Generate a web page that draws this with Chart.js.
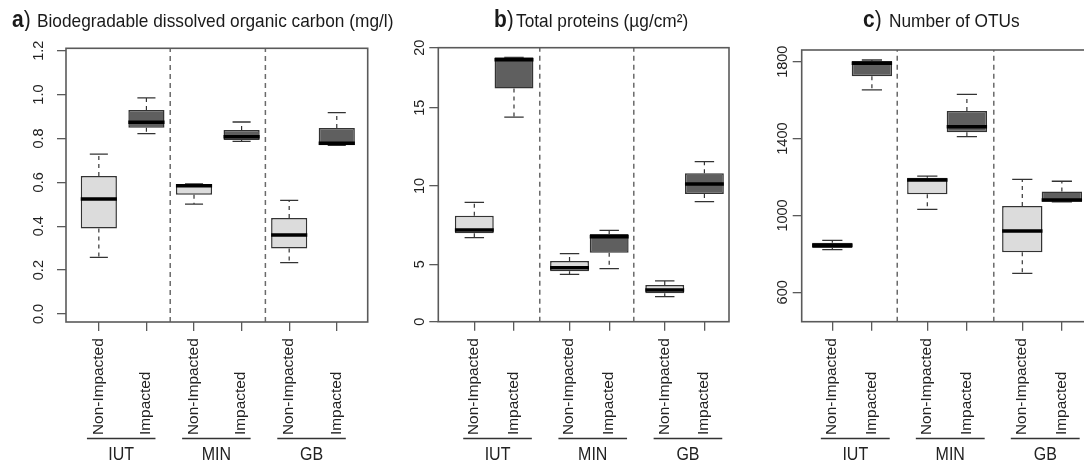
<!DOCTYPE html>
<html>
<head>
<meta charset="utf-8">
<script src="https://cdn.jsdelivr.net/npm/chart.js@4.4.1/dist/chart.umd.min.js"></script>
<style>
    html, body { margin: 0; padding: 0; background: #fff; overflow: hidden; }
    #wrap { position: relative; width: 1084px; height: 464px; overflow: hidden; }
    canvas { position: absolute; top: 0; }
    .tl, .tt { position: absolute; white-space: nowrap; font-family: "Liberation Sans", Arial, sans-serif; color: #1a1a1a; line-height: 22px; transform: scaleY(1.1); transform-origin: left bottom; }
    .tl { top: 9px; font-size: 21px; }
    .tl b { font-weight: bold; }
    .tt { top: 10px; font-size: 17.3px; }
</style>
</head>
<body>
<div id="wrap">
    <canvas id="cA" width="370" height="464" style="left:0px"></canvas>
    <canvas id="cB" width="362" height="464" style="left:370px"></canvas>
    <canvas id="cC" width="356" height="464" style="left:732px"></canvas>
    <div class="tl" style="left:12px"><b>a</b>)</div>
    <div class="tt" style="left:37px">Biodegradable dissolved organic carbon (mg/l)</div>
    <div class="tl" style="left:494px"><b>b</b>)</div>
    <div class="tt" style="left:516px">Total proteins (µg/cm²)</div>
    <div class="tl" style="left:863px"><b>c</b>)</div>
    <div class="tt" style="left:889px">Number of OTUs</div>
</div>
<script>
// order of boxes: IUT-NI, IUT-I, MIN-NI, MIN-I, GB-NI, GB-I
const groups = ['IUT', 'MIN', 'GB'];
const conditions = ['Non-Impacted', 'Impacted', 'Non-Impacted', 'Impacted', 'Non-Impacted', 'Impacted'];

// a) biodegradable DOC (mg/l)
const bdocMin = [0.258, 0.822, 0.501, 0.787, 0.234, 0.769];
const bdocQ1  = [0.390, 0.849, 0.544, 0.793, 0.298, 0.769];
const bdocMed = [0.524, 0.874, 0.585, 0.808, 0.360, 0.778];
const bdocQ3  = [0.629, 0.930, 0.593, 0.839, 0.438, 0.848];
const bdocMax = [0.729, 0.985, 0.593, 0.875, 0.518, 0.918];
const bdocTicks = [0, 0.2, 0.4, 0.6, 0.8, 1.0, 1.2];
const bdocTickLabels = ['0.0', '0.2', '0.4', '0.6', '0.8', '1.0', '1.2'];

// b) total proteins (µg/cm²)
const protMin = [6.70, 14.4, 4.13, 4.62, 2.18, 9.00];
const protQ1  = [6.98, 16.6, 4.39, 5.74, 2.47, 9.49];
const protMed = [7.19, 19.0, 4.70, 6.76, 2.76, 10.13];
const protQ3  = [8.10, 19.2, 5.21, 6.93, 3.20, 10.81];
const protMax = [8.96, 19.2, 5.68, 7.17, 3.55, 11.55];
const protTicks = [0, 5, 10, 15, 20];
const protTickLabels = ['0', '5', '10', '15', '20'];
// the protein axis of the figure is not evenly spaced: where each tick sits (fraction of axis height)
const protAxisKnots = [0, 5, 10, 15, 20];
const protAxisFracs = [0, 0.2095, 0.4953, 0.781, 1];

// c) number of OTUs
const otuMin = [822, 1653, 1032, 1410, 699, 1071];
const otuQ1  = [830, 1724, 1110, 1433, 808, 1071];
const otuMed = [845, 1792, 1184, 1462, 919, 1080];
const otuQ3  = [858, 1804, 1196, 1543, 1049, 1124];
const otuMax = [870, 1809, 1205, 1630, 1188, 1178];
const otuTicks = [600, 1000, 1400, 1800];
const otuTickLabels = ['600', '1000', '1400', '1800'];

class KnotScale extends Chart.LinearScale {
    static id = 'knot';
    static defaults = Chart.LinearScale.defaults;
    getPixelForValue(v) {
        if (v === null || v === undefined || isNaN(v)) return NaN;
        const k = protAxisKnots, f = protAxisFracs;
        let i = 0;
        while (i < k.length - 2 && v > k[i + 1]) i++;
        const t = (v - k[i]) / (k[i + 1] - k[i]);
        return this.getPixelForDecimal(f[i] + t * (f[i + 1] - f[i]));
    }
    getValueForPixel(px) {
        const d = this.getDecimalForPixel(px);
        const k = protAxisKnots, f = protAxisFracs;
        let i = 0;
        while (i < f.length - 2 && d > f[i + 1]) i++;
        return k[i] + (d - f[i]) / (f[i + 1] - f[i]) * (k[i + 1] - k[i]);
    }
}
Chart.register(KnotScale);

const FONT = '"Liberation Sans", Arial, sans-serif';
const LIGHT = '#dcdcdc', DARK = '#5f5f5f', EDGE = '#333', AXIS = '#5a5a5a';

const panels = [
    { id: 'cA', min: bdocMin, q1: bdocQ1, med: bdocMed, q3: bdocQ3, max: bdocMax,
      ticks: bdocTicks, tickLabels: bdocTickLabels, yType: 'linear', yMin: -0.0365, yMax: 1.211,
      pos: [1, 2, 3, 4, 5, 6], xMin: 0.31, xMax: 6.65, seps: [2.5, 4.5], boxW: 0.76,
      grpL: -0.25, grpR: 0.19, yWidth: 66, padTop: 48.3, padRight: 2.3, xHeight: 142, yLabOff: 27 },
    { id: 'cB', min: protMin, q1: protQ1, med: protMed, q3: protQ3, max: protMax,
      ticks: protTicks, tickLabels: protTickLabels, yType: 'knot', yMin: 0, yMax: 20,
      pos: [1, 2, 3.4, 4.4, 5.8, 6.8], xMin: 0.092, xMax: 7.42, seps: [2.65, 5.02], boxW: 0.98,
      grpL: -0.28, grpR: 0.45, yWidth: 68.3, padTop: 47.7, padRight: 3, xHeight: 142.3, yLabOff: 18 },
    { id: 'cC', min: otuMin, q1: otuQ1, med: otuMed, q3: otuQ3, max: otuMax,
      ticks: otuTicks, tickLabels: otuTickLabels, yType: 'linear', yMin: 447, yMax: 1861,
      pos: [1, 2, 3.4, 4.4, 5.8, 6.8], xMin: 0.226, xMax: 7.41, seps: [2.64, 5.08], boxW: 1.02,
      grpL: -0.29, grpR: 0.45, yWidth: 69.7, padTop: 50, padRight: 2, xHeight: 142.3, yLabOff: 19 }
];

function drawText(ctx, txt, x, y, o) {
    ctx.save();
    ctx.translate(x, y);
    if (o.rot) ctx.rotate(o.rot);
    ctx.scale(o.sx || 1, o.sy || 1);
    ctx.font = o.font;
    ctx.fillStyle = '#222';
    ctx.textAlign = o.align || 'center';
    ctx.textBaseline = o.base || 'middle';
    ctx.fillText(txt, 0, 0);
    ctx.restore();
}

function makePanel(p) {
    const boxes = p.pos.map((x, i) => ({ x, y: [p.q1[i], p.q3[i]] }));
    const medians = p.pos.map((x, i) => ({ x, y: p.med[i] }));
    const caps = [], whiskers = [], seps = [];
    p.pos.forEach((x, i) => {
        caps.push({ x, y: p.max[i] }, { x, y: p.min[i] });
        whiskers.push({ x, y: p.q3[i] }, { x, y: p.max[i] }, { x, y: null },
                      { x, y: p.q1[i] }, { x, y: p.min[i] }, { x, y: null });
    });
    p.seps.forEach(s => seps.push({ x: s, y: p.yMin }, { x: s, y: p.yMax }, { x: s, y: null }));

    // half-length in pixels of a horizontal segment that is u x-units long
    const halfPx = (c, u) => {
        const s = c.chart.scales.x;
        return Math.abs(s.getPixelForValue(u / 2) - s.getPixelForValue(0));
    };

    const extras = {
        id: 'extras' + p.id,
        afterDraw(chart) {
            const ctx = chart.ctx, ca = chart.chartArea;
            const xs = chart.scales.x, ys = chart.scales.y;
            ctx.save();
            ctx.strokeStyle = AXIS;
            ctx.lineWidth = 1.6;
            ctx.strokeRect(ca.left, ca.top, ca.right - ca.left, ca.bottom - ca.top);
            ctx.restore();

            p.ticks.forEach((v, i) => {
                drawText(ctx, p.tickLabels[i], ca.left - p.yLabOff, ys.getPixelForValue(v),
                    { rot: -Math.PI / 2, font: '14.5px ' + FONT });
            });
            p.pos.forEach((x, i) => {
                drawText(ctx, conditions[i], xs.getPixelForValue(x), 435,
                    { rot: -Math.PI / 2, align: 'left', font: '14px ' + FONT, sx: 1.1 });
            });
            groups.forEach((g, k) => {
                const x1 = xs.getPixelForValue(p.pos[2 * k] + p.grpL);
                const x2 = xs.getPixelForValue(p.pos[2 * k + 1] + p.grpR);
                ctx.save();
                ctx.strokeStyle = '#333';
                ctx.lineWidth = 1.3;
                ctx.beginPath();
                ctx.moveTo(x1, 438.5);
                ctx.lineTo(x2, 438.5);
                ctx.stroke();
                ctx.restore();
                drawText(ctx, g, (x1 + x2) / 2, 455, { font: '16px ' + FONT, sy: 1.2 });
            });
        }
    };

    const axisGrid = { offset: false, drawOnChartArea: false, drawTicks: true, tickLength: 9, color: AXIS, lineWidth: 1.3 };

    return new Chart(document.getElementById(p.id), {
        type: 'bar',
        data: {
            datasets: [
                {
                    type: 'bar', data: boxes, order: 3,
                    backgroundColor: p.pos.map((x, i) => i % 2 === 0 ? LIGHT : DARK),
                    borderColor: EDGE, borderWidth: 1.5, borderSkipped: false,
                    barPercentage: p.boxW, categoryPercentage: 1
                },
                {
                    type: 'line', data: whiskers, order: 2, spanGaps: false,
                    borderColor: EDGE, borderWidth: 1.2, borderDash: [4, 4], pointRadius: 0, fill: false
                },
                {
                    type: 'line', data: caps, order: 1, showLine: false,
                    pointStyle: 'line', pointRadius: c => halfPx(c, p.boxW / 2),
                    pointBorderColor: EDGE, pointBorderWidth: 1.3
                },
                {
                    type: 'line', data: medians, order: 0, showLine: false,
                    pointStyle: 'line', pointRadius: c => halfPx(c, p.boxW),
                    pointBorderColor: '#000', pointBorderWidth: 3.5
                },
                {
                    type: 'line', data: seps, order: 4, spanGaps: false,
                    borderColor: '#6a6a6a', borderWidth: 1.5, borderDash: [5, 4], pointRadius: 0, fill: false
                }
            ]
        },
        options: {
            responsive: false,
            animation: false,
            events: [],
            layout: { padding: { top: p.padTop, right: p.padRight, left: 0, bottom: 0 } },
            plugins: { legend: { display: false }, tooltip: { enabled: false } },
            scales: {
                x: {
                    type: 'linear', min: p.xMin, max: p.xMax, offset: false,
                    afterBuildTicks: s => { s.ticks = p.pos.map(v => ({ value: v })); },
                    afterFit: s => { s.height = p.xHeight; },
                    ticks: { display: false },
                    grid: axisGrid,
                    border: { display: false }
                },
                y: {
                    type: p.yType, min: p.yMin, max: p.yMax,
                    afterBuildTicks: s => { s.ticks = p.ticks.map(v => ({ value: v })); },
                    afterFit: s => { s.width = p.yWidth; },
                    ticks: { display: false },
                    grid: axisGrid,
                    border: { display: false }
                }
            }
        },
        plugins: [extras]
    });
}

panels.forEach(makePanel);
</script>
</body>
</html>
